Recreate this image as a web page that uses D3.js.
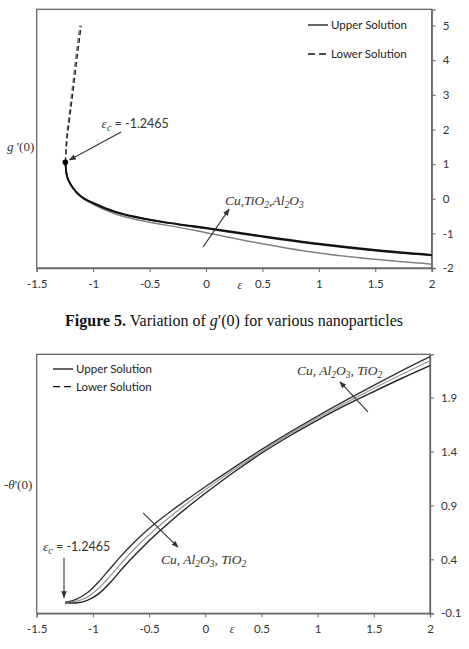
<!DOCTYPE html>
<html>
<head>
<meta charset="utf-8">
<script src="https://cdn.jsdelivr.net/npm/d3@7"></script>
<style>
  body { margin: 0; background: #fff; }
  svg { display: block; }
</style>
</head>
<body>
<svg id="chart" width="469" height="649"></svg>
<script>
// ---------- DATA: Figure 5 (g'(0)) ----------
const xTicks = [-1.5, -1, -0.5, 0, 0.5, 1, 1.5, 2];
const gTicks = [-2, -1, 0, 1, 2, 3, 4, 5];
const epsC = -1.2465;
const gCrit = 1.05;

// upper solution branches (solid)
const gUpperEps    = [-1.2465, -1.235, -1.20, -1.15, -1.10, -1.0, -0.8, -0.5, -0.25, 0, 0.5, 1.0, 1.5, 2.0];
const gUpperCu     = [1.05, 0.70, 0.41, 0.18, 0.03, -0.16, -0.44, -0.68, -0.82, -0.98, -1.30, -1.57, -1.75, -1.89];
const gUpperTiO2   = [1.05, 0.70, 0.42, 0.20, 0.05, -0.13, -0.39, -0.61, -0.74, -0.86, -1.10, -1.32, -1.50, -1.64];
const gUpperAl2O3  = [1.05, 0.70, 0.42, 0.20, 0.05, -0.12, -0.38, -0.60, -0.73, -0.84, -1.08, -1.30, -1.48, -1.62];
// lower solution branches (dashed)
const gLowerEpsA   = [-1.2465, -1.241, -1.217, -1.188, -1.158, -1.118];
const gLowerEpsB   = [-1.2465, -1.237, -1.209, -1.178, -1.147, -1.106];
const gLowerVals   = [1.05, 1.5, 2.3, 3.1, 3.95, 5.0];

// ---------- DATA: -theta'(0) ----------
const tTicks = [-0.1, 0.4, 0.9, 1.4, 1.9];
const tUpperEps    = [-1.2465, -1.15, -1.05, -0.95, -0.85, -0.75, -0.65, -0.55, -0.45, -0.3, -0.15, 0, 0.25, 0.5, 0.75, 1.0, 1.25, 1.5, 1.75, 2.0];
const tUpperCu     = [0.0, 0.03, 0.09, 0.19, 0.31, 0.43, 0.54, 0.64, 0.73, 0.85, 0.963, 1.073, 1.248, 1.416, 1.576, 1.728, 1.873, 2.013, 2.148, 2.278];
const tUpperAl2O3  = [0.0, 0.01, 0.05, 0.13, 0.24, 0.36, 0.475, 0.58, 0.675, 0.805, 0.93, 1.045, 1.228, 1.40, 1.56, 1.71, 1.85, 1.985, 2.115, 2.24];
const tUpperTiO2   = [0.0, -0.005, 0.02, 0.08, 0.18, 0.30, 0.415, 0.52, 0.62, 0.76, 0.89, 1.012, 1.205, 1.383, 1.543, 1.69, 1.828, 1.955, 2.078, 2.195];
const tLowerEps    = [-1.2465, -1.20, -1.15];
const tLowerCu     = [0.0, 0.0, -0.002];
const tLowerTiO2   = [0.0, -0.004, -0.008];

// ---------- drawing ----------
const svg = d3.select("#chart");
const serif = "'Liberation Serif', 'Times New Roman', serif";
const sans = "Lato, 'Open Sans', sans-serif";
const frameColor = "#666";

const defs = svg.append("defs");
defs.append("marker").attr("id", "arr").attr("viewBox", "0 0 10 10")
  .attr("refX", 9).attr("refY", 5).attr("markerWidth", 7).attr("markerHeight", 7)
  .attr("orient", "auto").attr("markerUnits", "userSpaceOnUse")
  .append("path").attr("d", "M0,1 L10,5 L0,9 Z").attr("fill", "#333");

function frame(x, y, xT, yT, yFmt) {
  const [x0, x1] = x.range();
  const [y0, y1] = y.range();
  svg.append("rect").attr("x", x0).attr("y", y1).attr("width", x1 - x0).attr("height", y0 - y1)
    .attr("fill", "none").attr("stroke", frameColor).attr("stroke-width", 1.3);
  const gx = svg.append("g").attr("transform", `translate(0,${y0})`)
    .call(d3.axisBottom(x).tickValues(xT).tickSize(4).tickPadding(8).tickFormat(d => String(d)));
  const gy = svg.append("g").attr("transform", `translate(${x1},0)`)
    .call(d3.axisRight(y).tickValues(yT).tickSize(4).tickPadding(7).tickFormat(yFmt));
  [gx, gy].forEach(g => {
    g.select(".domain").attr("stroke", frameColor).attr("stroke-width", 1.3);
    g.selectAll(".tick line").attr("stroke", frameColor);
    g.selectAll(".tick text").attr("font-size", 11.5).attr("fill", "#333").attr("font-family", sans);
  });
}

function curve(x, y, xs, ys, color, width, dash, kind) {
  const line = d3.line().x((d, i) => x(xs[i])).y(d => y(d))
    .curve(kind === "cr" ? d3.curveCatmullRom.alpha(0.5) : d3.curveMonotoneX);
  svg.append("path").attr("d", line(ys)).attr("fill", "none")
    .attr("stroke", color).attr("stroke-width", width)
    .attr("stroke-dasharray", dash || null);
}

function arrow(x, y, a, b) {
  svg.append("line").attr("x1", x(a[0])).attr("y1", y(a[1])).attr("x2", x(b[0])).attr("y2", y(b[1]))
    .attr("stroke", "#333").attr("stroke-width", 1.1).attr("marker-end", "url(#arr)");
}

function legend(x0, yA, yB) {
  svg.append("line").attr("x1", x0).attr("x2", x0 + 20).attr("y1", yA).attr("y2", yA)
    .attr("stroke", "#111").attr("stroke-width", 1.3);
  svg.append("line").attr("x1", x0).attr("x2", x0 + 20).attr("y1", yB).attr("y2", yB)
    .attr("stroke", "#111").attr("stroke-width", 1.3).attr("stroke-dasharray", "7,4");
  svg.append("text").attr("x", x0 + 23).attr("y", yA + 4).attr("font-family", sans)
    .attr("font-size", 11.5).attr("fill", "#222").text("Upper Solution");
  svg.append("text").attr("x", x0 + 23).attr("y", yB + 4).attr("font-family", sans)
    .attr("font-size", 11.5).attr("fill", "#222").text("Lower Solution");
}

function epsCLabel(px, py) {
  const t = svg.append("text").attr("x", px).attr("y", py).attr("fill", "#333").attr("font-size", 13.5);
  t.append("tspan").attr("font-family", serif).attr("font-style", "italic").text("ε");
  t.append("tspan").attr("font-family", serif).attr("font-style", "italic").attr("font-size", 10).attr("dy", 3).text("c");
  t.append("tspan").attr("font-family", sans).attr("font-size", 12.5).attr("dy", -3).text(" = -1.2465");
}

function npLabel(px, py, parts) {
  const t = svg.append("text").attr("x", px).attr("y", py).attr("fill", "#333")
    .attr("font-family", serif).attr("font-style", "italic").attr("font-size", 13.5);
  parts.forEach(p => {
    if (p.sub) t.append("tspan").attr("font-size", 9.5).attr("dy", 3).text(p.t);
    else t.append("tspan").attr("dy", p.after ? -3 : 0).text(p.t);
  });
}

// ====== Chart 1 ======
const x1 = d3.scaleLinear().domain([-1.5, 2]).range([36.7, 431.7]);
const y1 = d3.scaleLinear().domain([-2, 5.47]).range([268, 9.3]);
frame(x1, y1, xTicks, gTicks, d => String(d));

curve(x1, y1, gUpperEps, gUpperCu, "#808080", 1.5);
curve(x1, y1, gUpperEps, gUpperTiO2, "#222", 1.6);
curve(x1, y1, gUpperEps, gUpperAl2O3, "#111", 1.8);
curve(x1, y1, gLowerEpsA, gLowerVals, "#777", 1.3, "5,3");
curve(x1, y1, gLowerEpsB, gLowerVals, "#222", 1.3, "5,3");
svg.append("circle").attr("cx", x1(epsC)).attr("cy", y1(gCrit)).attr("r", 2.8).attr("fill", "#000");

legend(308, 25, 54);
epsCLabel(x1(-0.925), y1(2.05));
arrow(x1, y1, [-0.752, 1.93], [-1.21, 1.12]);
npLabel(x1(0.168), y1(-0.18), [{t: "Cu,TiO"}, {t: "2", sub: true}, {t: ",Al", after: true}, {t: "2", sub: true}, {t: "O", after: true}, {t: "3", sub: true}]);
arrow(x1, y1, [-0.025, -1.39], [0.205, -0.30]);

// axis titles
const gl = svg.append("text").attr("x", 7).attr("y", 151).attr("font-family", serif)
  .attr("font-size", 13).attr("fill", "#333");
gl.append("tspan").attr("font-style", "italic").text("g");
gl.append("tspan").text(" '(0)");
svg.append("text").attr("x", x1(0.3)).attr("y", 289).attr("font-family", serif).attr("font-style", "italic")
  .attr("font-size", 12).attr("fill", "#333").attr("text-anchor", "middle").text("ε");

// caption
const cap = svg.append("text").attr("x", 234).attr("y", 326).attr("text-anchor", "middle")
  .attr("font-family", serif).attr("font-size", 16).attr("fill", "#111");
cap.append("tspan").attr("font-weight", "bold").text("Figure 5.");
cap.append("tspan").text(" Variation of ");
cap.append("tspan").attr("font-style", "italic").text("g");
cap.append("tspan").text("′(0) for various nanoparticles");

// ====== Chart 2 ======
const x2 = d3.scaleLinear().domain([-1.5, 2]).range([36.7, 430]);
const y2 = d3.scaleLinear().domain([-0.1, 2.3]).range([613.3, 354.3]);
frame(x2, y2, xTicks, tTicks, d => d.toFixed(1));

curve(x2, y2, tUpperEps, tUpperCu, "#333", 1.4, null, "cr");
curve(x2, y2, tUpperEps, tUpperAl2O3, "#999", 1.3, null, "cr");
curve(x2, y2, tUpperEps, tUpperTiO2, "#222", 1.4, null, "cr");
curve(x2, y2, tLowerEps, tLowerCu, "#222", 1.6, "5,2");
curve(x2, y2, tLowerEps, tLowerTiO2, "#666", 1.6, "5,2");

legend(53, 369, 386.7);
epsCLabel(x2(-1.444), y2(0.477));
arrow(x2, y2, [-1.257, 0.415], [-1.257, 0.045]);
const botParts = [{t: "Cu, Al"}, {t: "2", sub: true}, {t: "O", after: true}, {t: "3", sub: true}, {t: ", TiO", after: true}, {t: "2", sub: true}];
npLabel(x2(-0.394), y2(0.357), botParts);
arrow(x2, y2, [-0.554, 0.83], [-0.243, 0.514]);
npLabel(x2(0.816), y2(2.108), botParts);
arrow(x2, y2, [1.448, 1.766], [1.199, 2.044]);

const tl = svg.append("text").attr("x", 4).attr("y", 489).attr("font-family", serif)
  .attr("font-size", 13).attr("fill", "#333");
tl.append("tspan").text("-");
tl.append("tspan").attr("font-style", "italic").text("θ");
tl.append("tspan").text("'(0)");
svg.append("text").attr("x", x2(0.24)).attr("y", 633).attr("font-family", serif).attr("font-style", "italic")
  .attr("font-size", 12).attr("fill", "#333").attr("text-anchor", "middle").text("ε");
</script>
</body>
</html>
